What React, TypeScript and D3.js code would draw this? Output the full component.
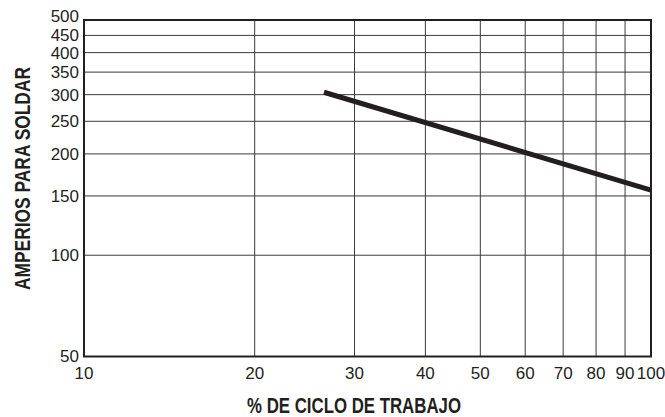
import React from "react";
import * as d3 from "d3";

const xTicks = [10, 20, 30, 40, 50, 60, 70, 80, 90, 100];
const yTicks = [50, 100, 150, 200, 250, 300, 350, 400, 450, 500];
const dutyCycle = [26.5, 100];
const amps = [305, 156];
const xTitle = "% DE CICLO DE TRABAJO";
const yTitle = "AMPERIOS PARA SOLDAR";

const W = 665;
const H = 417;
const M = { left: 84, right: 14, top: 20, bottom: 60.5 };
const INK = "#231f20";
const FONT = "'Liberation Sans Narrow', 'Liberation Sans', Arial, sans-serif";

export default function App() {
  const x = d3.scaleLog().domain([10, 100]).range([M.left, W - M.right]);
  const y = d3.scaleLog().domain([50, 500]).range([H - M.bottom, M.top]);
  const pts: [number, number][] = dutyCycle.map((d, i) => [d, amps[i]]);
  const line = d3
    .line<[number, number]>()
    .x((d) => x(d[0]))
    .y((d) => y(d[1]));

  return (
    <svg
      width={W}
      height={H}
      style={{ position: "absolute", left: 0, top: 0, background: "#fff" }}
    >
      {xTicks.slice(1, -1).map((t) => (
        <line key={"vx" + t} x1={x(t)} x2={x(t)} y1={y(500)} y2={y(50)} stroke="#3a3a3a" strokeWidth={1} />
      ))}
      {yTicks.slice(1, -1).map((t) => (
        <line key={"hy" + t} x1={x(10)} x2={x(100)} y1={y(t)} y2={y(t)} stroke="#3a3a3a" strokeWidth={1} />
      ))}
      <rect
        x={x(10)}
        y={y(500)}
        width={x(100) - x(10)}
        height={y(50) - y(500)}
        fill="none"
        stroke={INK}
        strokeWidth={2}
      />
      <path d={line(pts) ?? ""} fill="none" stroke={INK} strokeWidth={5} />
      {yTicks.map((t) => (
        <text
          key={"yl" + t}
          x={x(10) - 5}
          y={y(t) - (t === 500 ? 4 : 0)}
          dy="0.35em"
          textAnchor="end"
          fontFamily={FONT}
          fontSize={17}
          fill={INK}
        >
          {t}
        </text>
      ))}
      {xTicks.map((t) => (
        <text
          key={"xl" + t}
          x={x(t)}
          y={373.5}
          dy="0.35em"
          textAnchor="middle"
          fontFamily={FONT}
          fontSize={17}
          fill={INK}
        >
          {t}
        </text>
      ))}
      <text
        x={354}
        y={413}
        textAnchor="middle"
        fontFamily={FONT}
        fontWeight="bold"
        fontSize={22}
        fill={INK}
        textLength={214}
        lengthAdjust="spacingAndGlyphs"
      >
        {xTitle}
      </text>
      <text
        transform={`translate(30,178.5) rotate(-90)`}
        textAnchor="middle"
        fontFamily={FONT}
        fontWeight="bold"
        fontSize={22}
        fill={INK}
        textLength={223}
        lengthAdjust="spacingAndGlyphs"
      >
        {yTitle}
      </text>
    </svg>
  );
}
